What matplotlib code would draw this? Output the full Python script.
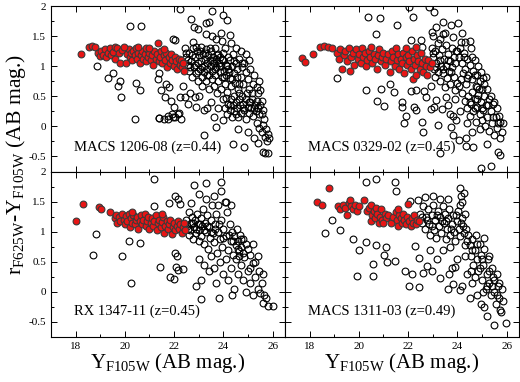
import matplotlib
matplotlib.use('Agg')
import matplotlib.pyplot as plt
from matplotlib.ticker import MultipleLocator

plt.rcParams['font.family'] = ['Liberation Serif', 'DejaVu Serif']
plt.rcParams['mathtext.fontset'] = 'custom'
plt.rcParams['mathtext.rm'] = 'Liberation Serif'
plt.rcParams['mathtext.it'] = 'Liberation Serif'

#---- data: (Y_F105W, r-Y) ----#
titles = ['MACS 1206-08 (z=0.44)', 'MACS 0329-02 (z=0.45)',
          'RX 1347-11 (z=0.45)', 'MACS 1311-03 (z=0.49)']

p1_red = [(18.23,1.21),(18.55,1.32),(18.65,1.33),(18.78,1.32),(18.9,1.22),(18.98,1.17),(19.05,1.25),(19.12,1.19),
          (19.2,1.28),(19.25,1.15),(19.32,1.22),(19.4,1.3),(19.45,1.18),(19.52,1.24),(19.58,1.32),(19.62,1.12),
          (19.7,1.3),(19.78,1.22),(19.82,1.06),(19.9,1.27),(20.05,1.05),(20.1,1.2),(20.15,1.28),(20.2,1.15),
          (20.25,1.22),(20.3,1.1),(20.35,1.25),(20.4,1.18),(20.45,1.3),(20.5,1.12),(20.55,1.22),(20.6,1.05),
          (20.65,1.18),(20.7,1.25),(20.75,1.12),(20.8,1.2),(20.85,1.08),(20.9,1.28),(20.95,1.15),(21.0,1.22),
          (21.05,1.1),(21.1,1.18),(21.15,1.02),(21.2,1.25),(21.25,1.12),(21.3,1.2),(21.34,1.38),(21.38,1.08),
          (21.42,1.15),(21.48,1.25),(21.52,1.05),(21.58,1.18),(21.62,1.1),(21.68,1.22),(21.72,0.98),(21.78,1.15),
          (21.82,1.05),(21.88,1.2),(21.92,1.1),(21.98,1.0),(22.02,1.15),(22.08,1.08),(22.12,0.95),(22.18,1.12),
          (22.22,1.02),(22.28,1.1),(22.32,0.98),(22.38,1.05),(22.42,0.92),(20.85,1.3),(21.6,1.28),(19.95,1.32),
          (20.55,1.32),(21.0,1.3)]

p1_black = [(20.19,1.67),(20.64,1.67),(18.86,1.0),(19.51,0.89),(19.31,0.81),(19.81,0.75),(19.72,0.67),(20.46,0.72),
            (20.62,0.61),(19.85,0.49),(20.4,0.12),(21.38,0.14),(21.75,0.18),(21.9,0.2),(22.05,0.16),(22.2,0.22),
            (22.28,0.13),(21.6,0.12),(22.24,1.96),(22.69,1.79),(22.8,1.65),(22.95,1.62),(23.3,1.72),(23.42,1.74),
            (23.54,1.92),(24.0,1.86),(24.13,1.77),(21.95,1.46),(22.05,1.44),(22.76,1.41),(23.3,1.54),(23.55,1.5),
            (23.7,1.45),(23.95,1.42),(23.9,1.55),
            (21.36,0.78),(21.68,0.71),(21.81,0.66),(21.47,0.6),(21.61,0.49),(21.88,0.43),(22.01,0.32),(22.15,0.21),
            (21.74,0.13),(21.95,0.16),(22.38,0.68),(22.46,0.49),(22.55,0.38),(22.24,0.49),(21.4,0.14),(21.38,0.88),
            (22.45,1.3),(22.5,1.15),(22.55,1.02),(22.6,0.92),(22.62,1.22),(22.7,1.08),(22.72,0.82),(22.78,1.3),
            (22.8,0.98),(22.85,1.15),(22.9,0.88),(22.92,1.25),(22.95,1.05),(22.98,0.75),
            (23.02,1.18),(23.05,0.95),(23.08,1.32),(23.1,1.08),(23.12,0.82),(23.15,0.68),(23.18,1.2),(23.2,1.0),
            (23.22,0.9),(23.25,1.12),(23.28,1.28),(23.3,0.75),(23.32,1.05),(23.35,0.95),(23.38,1.18),(23.4,0.62),
            (23.42,0.85),(23.45,1.1),(23.48,1.0),(23.5,1.25),(23.52,0.78),(23.55,0.92),(23.58,1.15),(23.6,1.05),
            (23.62,0.68),(23.65,0.85),(23.68,1.3),(23.7,1.12),(23.72,0.98),(23.75,0.55),(23.78,1.2),(23.8,0.75),
            (23.82,1.05),(23.85,0.9),(23.88,1.15),(23.9,0.62),(23.92,1.0),(23.95,0.82),(23.98,1.22),(24.0,1.1),
            (24.02,0.92),(24.05,0.7),(24.08,1.3),(24.1,1.02),(24.12,0.85),(24.15,0.58),(24.18,1.15),(24.2,0.95),
            (24.25,1.1),(24.28,0.8),(24.3,0.68),(24.35,1.0),(24.4,1.2),(24.42,0.88),(24.48,0.72),(24.5,1.05),
            (24.55,0.95),(24.6,0.62),(24.65,1.12),(24.7,0.82),(24.75,0.98),(24.8,0.7),(24.85,1.05),(24.9,0.9),
            (25.0,0.78),(25.05,0.62),(25.1,0.95),(25.2,0.7),(25.25,0.85),(25.35,0.65),(25.4,0.55),(25.45,0.75),
            (24.0,0.45),(24.05,0.3),(24.1,0.48),(24.15,0.2),(24.2,0.38),(24.25,0.28),(24.3,0.45),(24.35,0.15),
            (24.38,0.35),(24.42,0.5),(24.45,0.25),(24.5,0.4),(24.55,0.3),(24.6,0.15),(24.62,0.45),(24.68,0.35),
            (24.72,0.22),(24.75,0.5),(24.8,0.38),(24.85,0.28),(24.9,0.12),(24.92,0.45),(24.98,0.32),(25.02,0.22),
            (25.08,0.4),(25.12,0.3),(25.18,0.45),(25.22,0.18),(25.28,0.35),(25.32,0.25),(25.38,0.42),(25.42,0.3),
            (25.5,0.35),(25.55,0.2),(25.62,0.28),(25.65,0.12),
            (25.35,0.05),(25.45,-0.02),(25.55,-0.1),(25.6,0.02),(25.68,-0.18),(25.72,-0.05),(25.78,-0.25),(25.82,-0.12),
            (25.85,-0.2),(25.7,-0.45),(25.6,-0.42),(25.8,-0.45),(25.25,-0.2),(25.4,-0.28),
            (23.0,0.5),(22.86,0.49),(23.2,0.27),(23.35,0.3),(23.23,-0.15),(23.7,-0.01),(23.5,0.4),(23.8,0.3),
            (23.6,0.15),(24.38,-0.29),(24.85,-0.34),(24.0,0.1),(24.6,-0.05),(25.0,-0.1),(22.65,0.55),(22.9,0.32),
            (24.3,1.38),(24.5,1.3),(24.7,1.25),(24.9,1.2),(25.05,1.1),(24.25,1.52),(25.5,0.6),(25.56,0.43),
            (22.48,1.22),(22.58,1.1),(22.66,0.98),(22.74,1.18),(22.84,1.02),(22.88,1.32),(22.96,0.92),(23.04,1.25),
            (23.14,0.98),(23.24,1.22),(23.34,0.85),(23.44,1.3),(23.54,1.08),(23.64,0.95),(23.74,1.18),(23.84,1.0),
            (23.94,1.12),(24.04,0.82),(24.14,1.0),(24.24,0.9),(24.34,0.78),(24.44,1.08),(24.54,0.82),(24.64,0.7),
            (24.74,1.05),(24.28,0.35),(24.52,0.2),(24.78,0.3),(25.05,0.4),(25.25,0.3),(25.45,0.2),(24.65,0.55),
            (24.95,0.55),(25.15,0.55)]

p2_red = [(17.69,1.13),(17.82,1.07),(18.14,1.2),(18.44,1.32),(18.6,1.33),(18.75,1.32),(18.9,1.3),(19.12,1.22),
          (19.18,1.12),(19.25,1.28),(19.32,0.96),(19.38,1.18),(19.45,1.25),(19.5,1.08),(19.58,1.3),(19.63,0.92),
          (19.68,1.15),(19.75,1.22),(19.82,1.02),(19.88,1.28),(19.95,1.12),(20.0,1.2),(20.08,1.05),(20.12,1.3),
          (20.18,1.15),(20.25,1.22),(20.3,1.0),(20.35,1.1),(20.4,1.25),(20.45,1.15),(20.5,1.32),(20.55,1.05),
          (20.6,1.2),(20.65,1.12),(20.72,0.95),(20.78,1.18),(20.82,1.28),(20.88,1.08),(20.95,1.15),(21.0,1.22),
          (21.05,1.02),(21.12,1.12),(21.18,1.2),(21.25,0.9),(21.3,1.08),(21.35,1.25),(21.4,1.15),(21.45,1.0),
          (21.5,1.3),(21.55,1.1),(21.6,1.2),(21.65,0.95),(21.7,1.12),(21.75,1.05),(21.8,1.22),(21.85,0.88),
          (21.9,1.15),(21.95,1.02),(22.0,1.18),(22.05,1.08),(22.1,0.95),(22.15,1.25),(22.18,0.78),(22.22,1.12),
          (22.28,1.02),(22.32,0.85),(22.38,1.18),(22.42,1.08),(22.48,0.95),(22.52,1.22),(22.58,1.05),(22.62,0.9),
          (22.68,1.12),(22.72,1.0),(22.78,0.85),(22.82,1.1),(22.9,0.98),(22.95,1.05),(21.9,1.3),(22.3,1.32)]

p2_black = [(20.38,1.82),(20.84,1.81),(20.71,1.53),(21.56,1.68),(22.18,1.82),(22.04,1.99),(22.86,1.99),(23.06,1.9),
            (19.12,0.81),(20.3,0.6),(20.75,0.43),(21.02,0.34),(20.88,0.63),(21.27,0.71),(21.43,0.57),(21.77,0.41),
            (21.74,0.32),(21.9,0.18),(21.84,0.06),(22.1,0.59),(22.31,0.61),(22.24,0.33),(22.3,0.27),(22.65,0.59),
            (22.72,0.49),(22.58,0.07),(22.61,-0.09),(22.1,1.43),(22.52,1.43),(22.55,1.32),(22.92,0.68),(22.92,0.29),
            (23.2,0.03),(23.31,-0.44),(23.06,0.32),(23.37,0.29),(23.13,0.44),(23.54,0.49),(23.81,0.17),(23.74,-0.01),
            (23.81,-0.15),(24.08,-0.23),(24.35,-0.32),(24.63,-0.34),(24.97,-0.69),(25.37,-0.66),(25.2,-0.3),(25.65,-0.43),
            (25.71,-0.48),(23.13,1.66),(23.4,1.74),(23.74,1.68),(24.01,1.72),(22.97,1.57),(23.4,1.54),(23.81,1.49),
            (24.15,1.41),
            (22.95,1.3),(23.0,1.15),(23.05,0.95),(23.08,0.82),(23.1,1.25),(23.15,1.05),(23.2,0.9),(23.22,1.38),
            (23.25,1.18),(23.3,0.75),(23.32,1.0),(23.38,1.28),(23.4,0.88),(23.45,1.12),(23.48,0.65),(23.52,1.35),
            (23.55,1.0),(23.58,0.8),(23.62,1.2),(23.65,0.92),(23.7,1.08),(23.72,0.7),(23.78,1.3),(23.8,0.98),
            (23.85,0.82),(23.88,1.15),(23.92,0.6),(23.95,1.25),(23.98,0.72),(24.05,1.15),(24.08,0.68),(24.12,1.3),
            (24.15,0.78),(24.2,1.05),(24.22,0.88),(24.28,1.22),(24.3,0.95),(24.35,0.7),(24.4,1.12),(24.45,0.85),
            (24.5,1.02),(24.55,1.3),(24.6,0.78),(24.65,0.92),(24.7,1.1),(24.75,0.68),(24.8,0.85),(24.85,1.0),
            (24.9,0.75),(24.95,0.9),(25.0,0.62),(25.05,0.8),(25.1,0.7),(24.3,1.4),(24.5,1.42),(24.2,1.55),
            (23.3,1.45),(23.5,1.55),(23.0,1.5),
            (24.2,0.55),(24.3,0.42),(24.4,0.3),(24.45,0.5),(24.5,0.18),(24.55,0.38),(24.6,0.58),(24.65,0.25),
            (24.7,0.45),(24.75,0.08),(24.8,0.32),(24.85,0.52),(24.9,0.2),(24.95,0.4),(25.0,0.1),(25.05,0.28),
            (25.1,0.5),(25.12,0.0),(25.18,0.35),(25.22,0.15),(25.28,0.45),(25.3,-0.08),(25.35,0.25),(25.4,0.05),
            (25.45,0.38),(25.5,-0.15),(25.55,0.15),(25.6,0.3),(25.62,-0.02),(25.68,0.18),(25.72,-0.2),(25.75,0.08),
            (25.8,-0.1),(25.85,0.05),(24.6,-0.1),(24.4,0.05),(24.9,-0.05),(24.35,-0.2),(25.2,0.62),(24.8,0.65),
            (23.6,0.35),(23.9,0.45),(23.95,0.1),(24.1,0.25),(23.7,0.2),
            (23.02,1.22),(23.12,0.98),(23.28,1.1),(23.42,0.95),(23.6,1.1),(23.75,0.9),(23.9,1.05),(24.0,1.25),
            (24.25,1.15),(24.38,0.8),(24.58,1.15),(24.72,0.85),(24.88,0.62),(25.15,0.82),(24.5,0.4),(24.8,0.45),
            (25.0,0.3),(25.25,0.35),(25.45,0.15),(25.65,0.05),(24.7,0.3),(25.35,0.5),(25.5,0.4)]

p3_red = [(18.03,1.17),(18.3,1.46),(18.95,1.41),(19.04,1.38),(19.41,1.33),(19.6,1.22),(19.65,1.28),(19.7,1.15),
          (19.78,1.25),(19.82,1.18),(19.88,1.3),(19.95,1.2),(20.0,1.12),(20.05,1.26),(20.1,1.18),(20.15,1.3),
          (20.2,1.08),(20.25,1.22),(20.3,1.15),(20.35,1.28),(20.4,1.12),(20.45,1.2),(20.5,1.25),(20.55,1.05),
          (20.6,1.18),(20.65,1.28),(20.7,1.12),(20.75,1.2),(20.8,1.3),(20.85,1.1),(20.9,1.18),(20.95,1.24),
          (21.0,1.05),(21.05,1.15),(21.1,1.22),(21.15,1.1),(21.2,1.18),(21.25,1.28),(21.3,1.02),(21.35,1.15),
          (21.4,1.2),(21.45,1.08),(21.5,1.16),(21.55,1.25),(21.6,0.98),(21.65,1.1),(21.7,1.18),(21.75,1.05),
          (21.8,1.12),(21.85,1.2),(21.9,0.96),(21.95,1.08),(22.0,1.15),(22.05,1.02),(22.1,1.1),(22.15,1.18),
          (22.2,1.05),(22.25,1.12),(22.3,0.98),(22.35,1.08),(22.4,1.15),(22.45,1.02),(21.5,1.3),(20.3,1.32)]

p3_black = [(18.84,0.96),(18.7,0.62),(19.89,0.59),(20.16,0.85),(20.62,0.81),(20.26,0.15),(21.18,1.43),(21.2,1.88),
            (21.81,1.47),(22.05,1.6),(22.15,1.54),(22.24,1.46),(21.43,0.42),(21.85,0.25),(22.01,0.21),(22.08,0.41),
            (22.15,0.36),(22.38,0.38),(22.05,0.64),(22.11,0.59),
            (22.5,1.2),(22.55,1.05),(22.6,1.32),(22.62,0.95),(22.68,1.15),(22.72,1.25),(22.75,0.88),(22.8,1.08),
            (22.85,1.2),(22.88,0.98),(22.92,1.3),(22.95,1.12),(23.0,0.85),(23.02,1.02),(23.08,1.22),(23.1,0.92),
            (23.15,1.1),(23.18,1.38),(23.22,0.8),(23.25,1.15),(23.3,1.0),(23.35,1.28),(23.38,0.72),(23.42,1.08),
            (23.45,0.9),(23.5,1.2),(23.55,1.45),(23.58,0.98),(23.62,0.82),(23.68,1.12),(23.72,1.3),(23.75,0.65),
            (23.8,1.0),(23.85,0.88),(23.9,1.2),(23.95,0.75),(24.0,1.05),(24.05,1.5),(24.1,0.92),(24.15,1.32),
            (24.2,0.7),(24.25,1.12),(24.3,0.85),(24.35,1.0),(24.4,0.62),(24.45,0.92),(24.5,0.78),(24.55,1.05),
            (24.6,0.85),(24.62,0.68),(24.68,0.95),(24.72,0.75),(24.78,0.88),(24.85,0.58),(24.9,0.8),(25.0,0.72),
            (25.1,0.62),(25.2,0.48),
            (22.82,1.78),(23.3,1.81),(23.91,1.82),(23.0,1.62),(23.3,1.55),(23.6,1.6),(23.9,1.68),(24.1,1.5),
            (24.3,1.45),(22.7,1.48),(23.8,1.45),
            (23.0,0.55),(23.2,0.45),(23.4,0.35),(23.1,0.2),(23.5,0.6),(23.6,0.4),(23.7,0.15),(23.85,0.5),
            (24.0,0.3),(24.1,0.55),(24.2,0.2),(24.3,0.4),(24.45,0.05),(24.6,0.3),(24.7,0.45),(24.8,0.2),
            (24.9,0.0),(25.0,0.35),(25.1,0.15),(25.2,-0.05),(25.3,0.25),(25.4,0.05),(25.45,0.35),(25.55,0.15),
            (25.1,0.4),(24.5,0.55),(22.9,0.1),(23.09,-0.12),(23.81,-0.1),(24.35,-0.05),(25.6,0.3),(25.5,-0.02),
            (25.66,-0.06),(25.73,-0.11),(25.62,-0.18),(25.8,-0.23),(26.0,-0.23),(25.3,0.5),(25.2,0.8),(25.4,0.6),
            (22.52,1.1),(22.65,1.02),(22.78,1.15),(22.9,1.05),(23.05,1.12),(23.2,1.02),(23.32,1.1),(23.48,1.0),
            (23.65,1.05),(23.82,1.12),(24.0,0.9),(24.22,0.95),(24.4,0.85),(24.58,0.72),(24.7,0.88),(24.65,0.6),
            (24.8,0.65)]

p4_red = [(18.3,1.5),(18.51,1.45),(18.78,1.73),(19.16,1.42),(19.25,1.38),(19.35,1.45),(19.42,1.4),(19.53,1.28),
          (19.58,1.48),(19.63,1.52),(19.7,1.42),(19.78,1.38),(19.85,1.45),(19.92,1.35),(20.0,1.42),(20.22,1.52),
          (20.35,1.35),(20.42,1.4),(20.49,1.44),(20.5,1.18),(20.55,1.28),(20.6,1.35),(20.65,1.22),(20.7,1.4),
          (20.75,1.3),(20.8,1.15),(20.85,1.25),(20.9,1.38),(20.95,1.2),(21.05,1.3),(21.1,1.22),(21.2,1.28),
          (21.3,1.15),(21.4,1.25),(21.5,1.32),(21.55,1.2),(21.58,1.1),(21.62,1.28),(21.7,1.22),(21.75,1.15),
          (21.8,1.3),(21.85,1.2),(21.9,1.12),(21.95,1.25),(21.99,1.46),(22.05,1.18),(22.1,1.1),(22.15,1.22),
          (22.2,1.15),(22.25,1.28),(22.3,1.12),(22.38,1.2),(22.45,1.18),(21.6,1.38),(21.0,1.15)]

p4_black = [(18.92,1.19),(18.62,0.97),(19.22,1.03),(19.76,0.88),(20.01,0.69),(20.31,0.82),(19.94,0.26),(20.56,0.46),
            (20.58,0.26),(20.69,0.78),(21.1,0.75),(21.15,0.49),(21.47,0.51),(21.86,0.35),(22.17,0.3),(22.04,0.1),
            (22.45,0.08),(21.04,0.62),(21.52,1.67),(22.06,1.51),(20.31,1.82),(21.45,1.82),(20.7,1.88),
            (22.5,1.3),(22.55,1.15),(22.6,1.42),(22.68,1.05),(22.72,1.25),(22.8,1.38),(22.85,1.12),(22.9,0.95),
            (22.95,1.28),(23.0,1.45),(23.05,1.02),(23.1,1.2),(23.15,0.9),(23.2,1.35),(23.25,1.1),(23.3,1.25),
            (23.35,0.98),(23.4,1.42),(23.45,1.15),(23.5,1.3),(23.52,0.88),(23.58,1.05),(23.62,1.22),(23.68,1.38),
            (23.72,0.95),(23.78,1.12),(23.82,1.28),(23.88,1.0),(23.92,0.85),(23.98,1.18),(24.02,1.35),(24.08,1.05),
            (24.12,0.92),(24.18,1.22),(24.22,1.1),(24.28,0.98),(24.32,1.3),(24.38,0.85),(24.1,1.72),(24.15,1.6),
            (24.2,1.5),(24.25,1.65),(24.12,1.45),(23.3,1.55),(23.0,1.6),(22.7,1.58),(22.4,1.52),(23.6,1.55),
            (24.45,0.95),(24.5,0.78),(24.55,0.6),(24.6,0.88),(24.65,0.45),(24.7,0.7),(24.75,0.95),(24.8,0.55),
            (24.85,0.35),(24.9,0.8),(24.95,0.62),(25.0,0.2),(25.05,0.45),(25.1,0.72),(25.15,0.05),(25.2,0.3),
            (25.25,0.55),(25.3,0.15),(25.35,-0.05),(25.4,0.4),(25.45,0.25),(25.5,0.0),(25.55,-0.2),(25.6,0.3),
            (25.65,0.1),(25.7,-0.1),(25.75,-0.3),(25.8,0.05),(25.85,-0.15),(25.48,-0.55),(25.96,-0.52),(25.07,-0.25),
            (25.76,-0.34),(24.8,-0.05),(24.6,0.15),(24.4,0.3),(25.2,-0.4),(24.95,-0.2),(25.1,0.9),(24.3,0.6),
            (24.0,0.55),(23.8,0.4),(24.2,0.1),(24.5,-0.1),(23.6,0.05),
            (22.27,0.76),(22.45,0.57),(22.75,0.43),(22.61,0.32),(22.95,0.35),(23.29,0.23),(23.16,0.54),(23.64,0.29),
            (23.84,0.13),(24.11,0.03),(23.91,0.42),(24.32,0.77),(22.9,0.7),(23.4,0.7),(23.7,0.75),
            (22.58,1.25),(22.78,1.2),(22.98,1.1),(23.18,1.28),(23.38,1.18),(23.55,1.18),(23.75,1.05),(23.95,1.28),
            (24.15,1.15),(24.35,1.05),(24.6,0.7),(24.8,0.8),(25.0,0.55),(25.3,0.35),(25.5,0.2),(25.7,0.15),
            (24.9,0.4),(25.2,0.1),(24.7,0.25),(25.05,0.0),(25.4,0.1),(25.6,-0.05),(25.3,0.6),(24.55,0.35)]

blacks = [p1_black, p2_black, p3_black, p4_black]
reds = [p1_red, p2_red, p3_red, p4_red]

fig, axes = plt.subplots(2, 2, figsize=(5.2, 3.82), dpi=100, sharex=True, sharey=True)
fig.subplots_adjust(left=0.098, right=0.998, top=0.984, bottom=0.118, wspace=0, hspace=0)

for k, ax in enumerate(axes.flat):
    bx = [p[0] for p in blacks[k]]
    by = [p[1] for p in blacks[k]]
    rx = [p[0] for p in reds[k]]
    ry = [p[1] for p in reds[k]]
    ax.plot(bx, by, 'o', ms=4.9, mfc='none', mec='black', mew=0.8)
    ax.plot(rx, ry, 'o', ms=4.9, mfc='#e81515', mec='#3a3a3a', mew=0.8)
    ax.text(17.95, -0.35 if k < 2 else -0.33, titles[k], fontsize=10.5, va='center', ha='left')
    ax.set_xlim(17, 26.5)
    ax.set_ylim(-0.75, 2)
    ax.xaxis.set_major_locator(MultipleLocator(2))
    ax.xaxis.set_minor_locator(MultipleLocator(1))
    ax.yaxis.set_major_locator(MultipleLocator(0.5))
    ax.yaxis.set_minor_locator(MultipleLocator(0.25))
    ax.tick_params(which='both', direction='in', top=True, right=True, labelsize=8)
    ax.tick_params(which='major', length=4, width=0.7)
    ax.tick_params(which='minor', length=2.5, width=0.7)
    for s in ax.spines.values():
        s.set_linewidth(0.8)
    ax.set_yticks([-0.5, 0, 0.5, 1, 1.5, 2])
    ax.set_yticklabels(['-0.5', '0', '0.5', '1', '1.5', '2'])

for ax in axes[1]:
    ax.set_xlabel(r'$\mathregular{Y_{F105W}}$ (AB mag.)', fontsize=15, labelpad=0)

fig.text(0.031, 0.57, r'$\mathregular{r_{F625W}}$-$\mathregular{Y_{F105W}}$ (AB mag.)',
         rotation=90, fontsize=15.6, ha='center', va='center')

fig.savefig('out.png', dpi=100)
